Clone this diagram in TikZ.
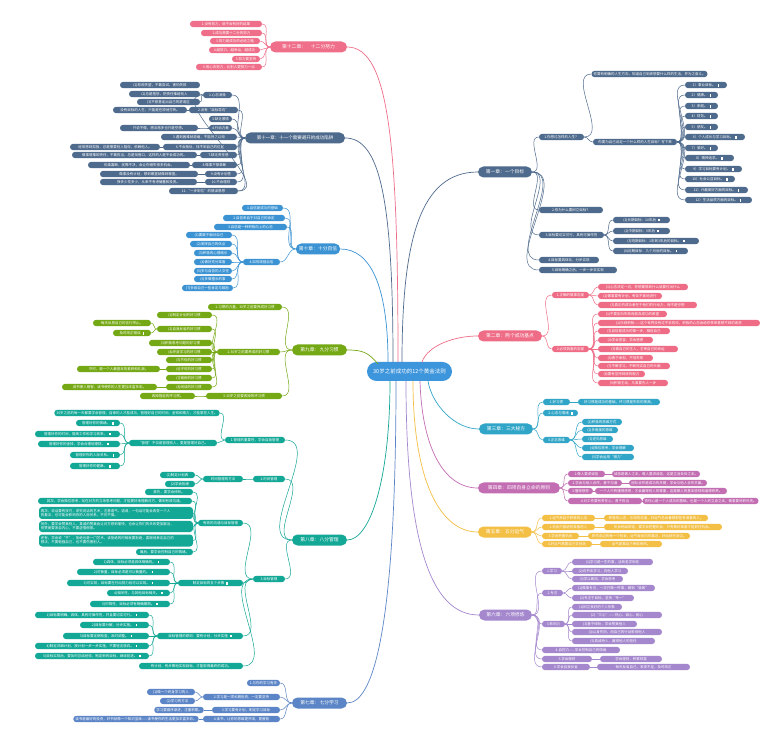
\documentclass[tikz,border=0pt]{standalone}
\usepackage{fontspec}
\setmainfont{Noto Sans CJK SC}
\definecolor{C0}{HTML}{3D95DC}
\definecolor{C1}{HTML}{4E6A8C}
\definecolor{C2}{HTML}{EF6C86}
\definecolor{C3}{HTML}{31A5C7}
\definecolor{C4}{HTML}{C36DB3}
\definecolor{C5}{HTML}{F3BF45}
\definecolor{C6}{HTML}{A487CD}
\definecolor{C7}{HTML}{5B85C6}
\definecolor{C8}{HTML}{13A796}
\definecolor{C9}{HTML}{75A815}
\definecolor{C10}{HTML}{3B93D3}
\definecolor{C12}{HTML}{EF6E89}
\newcommand\ic{\hspace{2pt}\rule[-0.2pt]{1.6pt}{2.4pt}}
\newcommand\N[6]{\pgfmathsetmacro\nw{#4-#3}\pgfmathsetmacro\nx{(#3+#4)/2}\node[#1,minimum width=\nw pt] (#2) at (\nx,#5) {#6};}
\newcommand\R[3]{\draw[#1] (#2.east) to[out=0,in=180] (#3.west);}
\newcommand\Lt[3]{\draw[#1] (#2.west) to[out=180,in=0] (#3.east);}
\tikzset{
 base/.style={rounded corners=3.1pt, minimum height=6.4pt, inner xsep=2pt, inner ysep=0.6pt, text=white, font=\fontsize{3.5}{4.3}\selectfont},
 chp/.style={rounded corners=5.5pt, minimum height=11pt, inner xsep=3pt, inner ysep=1pt, text=white, font=\fontsize{4.8}{5.5}\selectfont},
 n1/.style={base,fill=C1}, n2/.style={base,fill=C2}, n3/.style={base,fill=C3}, n4/.style={base,fill=C4},
 n5/.style={base,fill=C5}, n6/.style={base,fill=C6}, n7/.style={base,fill=C7}, n8/.style={base,fill=C8},
 n9/.style={base,fill=C9}, n10/.style={base,fill=C10}, n11/.style={base,fill=C1}, n12/.style={base,fill=C12},
 w1/.style={draw=C1,line width=0.5pt}, w2/.style={draw=C2,line width=0.5pt}, w3/.style={draw=C3,line width=0.5pt},
 w4/.style={draw=C4,line width=0.5pt}, w5/.style={draw=C5,line width=0.5pt}, w6/.style={draw=C6,line width=0.5pt},
 w7/.style={draw=C7,line width=0.5pt}, w8/.style={draw=C8,line width=0.5pt}, w9/.style={draw=C9,line width=0.5pt},
 w10/.style={draw=C10,line width=0.5pt}, w11/.style={draw=C1,line width=0.5pt}, w12/.style={draw=C12,line width=0.5pt},
}
\begin{document}
\begin{tikzpicture}[x=1pt,y=-1pt]
\fill[white] (0,0) rectangle (780,743);
\useasboundingbox (0,0) rectangle (780,743);
% ---------- center
\node[fill=C0, rounded corners=9.5pt, minimum width=85pt, minimum height=19pt, text=white, font=\fontsize{5.5}{6}\selectfont] (ct) at (409.5,371.5) {30岁之前成功的12个黄金法则};
% ---------- chapters
\N{chp,fill=C1}{ch1}{478}{532}{172}{第一章：一个目标}
\N{chp,fill=C2}{ch2}{478}{542}{336}{第二章：两个成功基点}
\N{chp,fill=C3}{ch3}{479}{533}{429}{第三章：三大秘方}
\N{chp,fill=C4}{ch4}{478}{560}{488}{第四章：四项自身立命的原则}
\N{chp,fill=C5}{ch5}{478}{532}{532}{第五章：五分运气}
\N{chp,fill=C6}{ch6}{479}{532}{615}{第六章：六项修炼}
\N{chp,fill=C7}{ch7}{292}{347}{703}{第七章：七分学习}
\N{chp,fill=C8}{ch8}{292}{347}{540}{第八章：八分管理}
\N{chp,fill=C9}{ch9}{292}{347}{350}{第九章：九分习惯}
\N{chp,fill=C10}{ch10}{297}{339}{249}{第十章：十分自信}
\N{chp,fill=C1,font=\fontsize{4.5}{5}\selectfont}{ch11}{245}{345}{138}{第十一章：十一个需要避开的成功陷阱}
\N{chp,fill=C12}{ch12}{270}{347}{47}{第十二章：\quad 十二分努力}
% center connectors
\draw[C1,line width=0.7pt] (402,362) .. controls (402,240) and (420,172) .. (ch1.west);
\draw[C2,line width=0.7pt] (422,362) .. controls (428,345) and (455,336) .. (ch2.west);
\draw[C3,line width=0.7pt] (428,381) .. controls (432,405) and (455,429) .. (ch3.west);
\draw[C4,line width=0.7pt] (420,381) .. controls (422,450) and (445,488) .. (ch4.west);
\draw[C5,line width=0.7pt] (413,381) .. controls (413,480) and (440,532) .. (ch5.west);
\draw[C6,line width=0.7pt] (406,381) .. controls (406,540) and (430,615) .. (ch6.west);
\draw[C12,line width=0.7pt] (398,362) .. controls (398,150) and (390,47) .. (ch12.east);
\draw[C1,line width=0.7pt] (393,362) .. controls (393,200) and (380,138) .. (ch11.east);
\draw[C10,line width=0.7pt] (388,362) .. controls (388,285) and (370,249) .. (ch10.east);
\draw[C9,line width=0.7pt] (378,364) .. controls (368,352) and (362,350) .. (ch9.east);
\draw[C8,line width=0.7pt] (390,381) .. controls (390,480) and (370,540) .. (ch8.east);
\draw[C7,line width=0.7pt] (396,381) .. controls (396,620) and (375,703) .. (ch7.east);
% ---------- chapter 1
\N{n1}{a1}{539}{584}{137}{1.你想过怎样的人生？}
\N{n1}{a1a}{592}{707}{74}{你要有明确的人生方向，知道自己到底想要什么样的生活，并为之奋斗。}
\N{n1}{a1b}{593}{677}{142}{你要为自己设定一个什么样的人生目标？写下来}
\N{n1}{a1b1}{685}{727}{85}{1）事业目标。\ic}
\N{n1}{a1b2}{685}{718}{95}{2）健康。\ic}
\N{n1}{a1b3}{685}{718}{106}{3）家庭。\ic}
\N{n1}{a1b4}{685}{718}{116}{4）财务。\ic}
\N{n1}{a1b5}{685}{718}{127}{5）朋友。\ic}
\N{n1}{a1b6}{685}{745}{137}{6）个人成长与学习目标。\ic}
\N{n1}{a1b7}{685}{718}{148}{7）爱好。\ic}
\N{n1}{a1b8}{685}{734}{158}{8）精神追求。\ic}
\N{n1}{a1b9}{685}{742}{169}{9）学习目标要有计划。\ic}
\N{n1}{a1b10}{685}{735}{179}{10）社会公益目标。\ic}
\N{n1}{a1b11}{685}{748}{190}{11）兴趣爱好方面的目标。\ic}
\N{n1}{a1b12}{685}{752}{200}{12）生活品质方面的目标。\ic}
\N{n1}{a2}{539}{603}{210}{2.你为什么要树立目标？}
\N{n1}{a3}{539}{604}{235}{3.目标要切实可行，具有可操作性}
\N{n1}{a31}{613}{670}{220}{(1)长期目标：10年后\ic}
\N{n1}{a32}{613}{670}{231}{(2)中期目标：5年后\ic}
\N{n1}{a33}{613}{699}{241}{(3)短期目标：1年到3年后的目标。\ic}
\N{n1}{a34}{613}{688}{251}{(4)近期目标：几个月后的目标。\ic}
\N{n1}{a4}{539}{599}{260}{4.目标要具体化，分步实现}
\N{n1}{a5}{539}{617}{270}{5.目标明确之后，一步一步去实现}
\foreach \c in {a1,a2,a3,a4,a5} {\R{w1}{ch1}{\c}}
\foreach \c in {a1a,a1b} {\R{w1}{a1}{\c}}
\foreach \c in {a1b1,a1b2,a1b3,a1b4,a1b5,a1b6,a1b7,a1b8,a1b9,a1b10,a1b11,a1b12} {\R{w1}{a1b}{\c}}
\foreach \c in {a31,a32,a33,a34} {\R{w1}{a3}{\c}}
% ---------- chapter 2
\N{n2}{b1}{552}{589}{295}{1.正确的做事态度}
\N{n2}{b11}{598}{688}{287}{(1)心态决定一切，你想要得到什么就要付出什么}
\N{n2}{b12}{598}{662}{296}{(2)做事要有计划，有条不紊地进行}
\N{n2}{b13}{598}{697}{305}{(3)真正的成功者在于他们的行动力，而不是空想}
\N{n2}{b2}{552}{589}{349}{2.必须具备的态度}
\N{n2}{b21}{598}{667}{314}{(1)不要因为失败而放弃成功的希望}
\N{n2}{b22}{598}{760}{323}{(2)乐观积极——这个世界没有过不去的坎，积极的心态会给你带来意想不到的收获}
\N{n2}{b23}{598}{670}{331}{(3)自信是成功的第一步，相信自己}
\N{n2}{b24}{598}{653}{340}{(4)学会宽容，学会感恩}
\N{n2}{b25}{598}{678}{349}{(5)做自己的主人，主宰自己的命运}
\N{n2}{b26}{598}{653}{358}{(6)勇于承担，不怕失败}
\N{n2}{b27}{598}{670}{366}{(7)不断学习，不断充实自己的头脑}
\N{n2}{b28}{598}{645}{374}{(8)要有坚持到底的毅力}
\N{n2}{b29}{598}{668}{383}{(9)积极主动，凡事要先人一步}
\foreach \c in {b1,b2} {\R{w2}{ch2}{\c}}
\foreach \c in {b11,b12,b13} {\R{w2}{b1}{\c}}
\foreach \c in {b21,b22,b23,b24,b25,b26,b27,b28,b29} {\R{w2}{b2}{\c}}
% ---------- chapter 3
\N{n3}{c1}{543}{570}{402}{1.好习惯}
\N{n3}{c1a}{578}{660}{402}{好习惯是成功的基础，坏习惯是失败的根源。}
\N{n3}{c2}{543}{578}{413}{2.心态与情绪\ic}
\N{n3}{c3}{543}{570}{440}{3.正念思维}
\N{n3}{c31}{582}{622}{422}{(1)积极的思维方式}
\N{n3}{c32}{582}{618}{430}{(2)多角度的思维}
\N{n3}{c33}{582}{613}{439}{(3)逆向思维}
\N{n3}{c34}{582}{634}{448}{(4)换位思考，学会理解}
\N{n3}{c35}{582}{634}{457}{(5)学会运用“借力”}
\foreach \c in {c1,c2,c3} {\R{w3}{ch3}{\c}}
\R{w3}{c1}{c1a}
\foreach \c in {c31,c32,c33,c34,c35} {\R{w3}{c3}{\c}}
% ---------- chapter 4
\N{n4}{d1}{568}{605}{474}{1.做人要讲诚信}
\N{n4}{d1a}{612}{700}{474}{诚信是做人之本，做人要讲诚信，这是立身处世之本。}
\N{n4}{d2}{568}{622}{483}{2.学会与他人合作，善于沟通}
\N{n4}{d2a}{629}{707}{483}{团队合作是成功的关键，学会与他人合作共赢。}
\N{n4}{d3}{568}{593}{491}{3.懂得感恩}
\N{n4}{d3a}{595}{727}{491}{一个人只有懂得感恩，才会赢得别人的尊重，这是做人的基本原则和道德修养。}
\N{n4}{d4}{568}{642}{501}{4.对工作要有责任心，勇于担当}
\N{n4}{d4a}{644}{757}{501}{责任心是一个人成功的基础，也是一个人的立身之本，做事要尽职尽责。}
\foreach \c in {d1,d2,d3,d4} {\R{w4}{ch4}{\c}}
\R{w4}{d1}{d1a}\R{w4}{d2}{d2a}\R{w4}{d3}{d3a}\R{w4}{d4}{d4a}
% ---------- chapter 5
\N{n5}{e1}{542}{595}{518}{1.运气来自于积极的心态}
\N{n5}{e1a}{604}{708}{518}{积极的心态，乐观的态度，好运气总会眷顾那些有准备的人。}
\N{n5}{e2}{542}{595}{527}{2.机会只留给有准备的人}
\N{n5}{e2a}{604}{722}{527}{机会稍纵即逝，要学会把握机会，只有做好准备才能抓住机会。}
\N{n5}{e3}{542}{579}{536}{3.学会把握机会}
\N{n5}{e3a}{588}{690}{536}{抓住身边的每一个机会，运气就会向你靠近，好运就在身边。}
\N{n5}{e4}{542}{592}{544}{4.好运气需要自己去创造}
\N{n5}{e4a}{600}{662}{544}{运气是靠自己争取来的。}
\foreach \c in {e1,e2,e3,e4} {\R{w5}{ch5}{\c}}
\R{w5}{e1}{e1a}\R{w5}{e2}{e2a}\R{w5}{e3}{e3a}\R{w5}{e4}{e4a}
% ---------- chapter 6
\N{n6}{f1}{542}{562}{571}{1.学习}
\N{n6}{f11}{572}{653}{562}{(1)学习是一生的事，活到老学到老}
\N{n6}{f12}{572}{628}{571}{(2)向书本学习，向他人学习}
\N{n6}{f13}{572}{623}{579}{(3)学以致用，学会思考}
\N{n6}{f2}{542}{563}{593}{2.专注}
\N{n6}{f21}{572}{655}{588}{(1)做事专注，一次只做一件事，做到“极致”}
\N{n6}{f22}{572}{634}{598}{(2)专注于目标，坚持“专一”}
\N{n6}{f3}{542}{565}{624}{3.影响力}
\N{n6}{f31}{572}{622}{607}{(1)树立良好的个人形象}
\N{n6}{f32}{572}{662}{615}{(2)“三心”——热心、诚心、耐心}
\N{n6}{f33}{572}{637}{624}{(3)善于倾听，学会赞美他人}
\N{n6}{f34}{572}{662}{632}{(4)以身作则，用自己的行动影响他人}
\N{n6}{f35}{572}{655}{641}{(5)真诚待人，赢得他人的信任}
\N{n6}{f4}{542}{620}{650}{4.自控力——学会控制自己的情绪}
\N{n6}{f5}{542}{592}{659}{5.学会理财}
\N{n6}{f5a}{600}{662}{659}{学会理财，积累财富}
\N{n6}{f6}{542}{590}{667}{6.学会自我反省}
\N{n6}{f6a}{597}{690}{667}{每天反省自己，发现不足，及时改正}
\foreach \c in {f1,f2,f3,f4,f5,f6} {\R{w6}{ch6}{\c}}
\foreach \c in {f11,f12,f13} {\R{w6}{f1}{\c}}
\foreach \c in {f21,f22} {\R{w6}{f2}{\c}}
\foreach \c in {f31,f32,f33,f34,f35} {\R{w6}{f3}{\c}}
\R{w6}{f5}{f5a}\R{w6}{f6}{f6a}
% ---------- chapter 7
\N{n7}{g1}{247}{280}{683}{1.与你的学习有关}
\N{n7}{g2}{203}{280}{697}{2.学习是一项长期投资，一定要坚持}
\N{n7}{g21}{147}{195}{692}{(1)做一个终身学习的人}
\N{n7}{g22}{160}{195}{701}{(2)学习的方法}
\N{n7}{g3}{212}{280}{710}{3.学习要有计划，制定学习目标}
\N{n7}{g3a}{155}{203}{710}{学习要循序渐进，注重积累。}
\N{n7}{g4}{203}{280}{719}{4.读书，让你的思维更开阔，更睿智}
\N{n7}{g4a}{75}{197}{719}{读书是最好的投资，好书就像一个知识宝库——读书使你的生活更加丰富多彩。}
\foreach \c in {g1,g2,g3,g4} {\Lt{w7}{ch7}{\c}}
\Lt{w7}{g2}{g21}\Lt{w7}{g2}{g22}\Lt{w7}{g3}{g3a}\Lt{w7}{g4}{g4a}
% ---------- chapter 8
\N{n8}{h1}{225}{285}{440}{1.管理的重要性，学会自我管理}
\N{n8}{h1a}{57}{217}{413}{30岁之前的每一天都要学会管理，自律的人才能成功，管理好自己的时间、金钱和精力，才能掌控人生。}
\N{n8}{h1b}{129}{217}{443}{“管理”不仅是管理别人，更是管理好自己。}
\N{n8}{h1b1}{76}{120}{423}{管理好你的情绪。\ic}
\N{n8}{h1b2}{35}{120}{434}{管理好你的时间，提高工作和学习效率。\ic}
\N{n8}{h1b3}{38}{120}{444}{管理好你的金钱，学会合理地理财。\ic}
\N{n8}{h1b4}{70}{120}{455}{管理好你的人际关系。\ic}
\N{n8}{h1b5}{70}{120}{466}{管理好你的健康。\ic}
\N{n8}{h2}{253}{285}{479}{2.时间管理}
\N{n8}{h2a}{203}{243}{479}{时间管理的方法}
\N{n8}{h2a1}{160}{195}{475}{(1)制定计划表}
\N{n8}{h2a2}{165}{195}{484}{(2)学会拒绝}
\N{n8}{h3}{253}{285}{579}{3.目标管理}
\N{n8}{h3a}{198}{243}{523}{有效的沟通与目标管理}
\N{n8}{h3a1}{145}{193}{492}{首先，要学会倾听。}
\N{n8}{h3a2}{38}{192}{501}{其次，学会换位思考，站在对方的立场思考问题，才能更好地理解对方，做到有效沟通。}
\node[n8,text width=150pt,align=left,minimum height=12pt] (h3a3) at (116,513) {再次，说话要有技巧，讲究说话的艺术，注意语气、语调，一句话可能会改变一个人\\的看法，也可能会影响你的人际关系，不可不慎。};
\node[n8,text width=150pt,align=left,minimum height=11pt] (h3a4) at (116,526.5) {另外，要学会赞美别人，真诚的赞美会让对方感到愉快，也会让你们的关系更加融洽，\\但赞美要发自内心，不要虚情假意。};
\node[n8,text width=150pt,align=left,minimum height=12pt] (h3a5) at (116,540.5) {还有，学会说“不”，拒绝也是一门艺术，该拒绝的时候就要拒绝，委婉地表达自己的\\想法，不要勉强自己，也不要伤害别人。};
\N{n8}{h3a6}{136}{193}{552}{最后，要学会控制自己的情绪。}
\N{n8}{h3b}{178}{243}{583}{制定目标的五个步骤\ic}
\N{n8}{h3b1}{93}{170}{562}{1)具体，目标必须是具体明确的。\ic}
\N{n8}{h3b2}{77}{170}{572}{2)可衡量，目标必须是可以衡量的。\ic}
\N{n8}{h3b3}{67}{170}{583}{3)可实现，目标要在付出努力后可以实现。\ic}
\N{n8}{h3b4}{107}{170}{593}{4)相关性，与其他目标相关。\ic}
\N{n8}{h3b5}{90}{170}{604}{5)时限性，目标必须有明确期限。\ic}
\N{n8}{h3c}{157}{243}{636}{目标管理的原则：要有计划，分步实施\ic}
\N{n8}{h3c1}{35}{149}{615}{1)目标要明确、具体，具有可操作性，并且要切实可行。\ic}
\N{n8}{h3c2}{80}{149}{625}{2)目标要分解，分步实施。\ic}
\N{n8}{h3c3}{63}{149}{636}{3)目标要定期检查，及时调整。\ic}
\N{n8}{h3c4}{35}{149}{646}{4)制定详细计划，按计划一步一步实施，不要轻言放弃。\ic}
\N{n8}{h3c5}{35}{149}{656}{5)目标实现后，要及时总结经验，制定新的目标，继续前进。\ic}
\N{n8}{h3d}{139}{243}{666}{有计划、有步骤地实现目标，才能取得最终的成功。}
\foreach \c in {h1,h2,h3} {\Lt{w8}{ch8}{\c}}
\Lt{w8}{h1}{h1a}\Lt{w8}{h1}{h1b}
\foreach \c in {h1b1,h1b2,h1b3,h1b4,h1b5} {\Lt{w8}{h1b}{\c}}
\Lt{w8}{h2}{h2a}\Lt{w8}{h2a}{h2a1}\Lt{w8}{h2a}{h2a2}
\foreach \c in {h3a,h3b,h3c,h3d} {\Lt{w8}{h3}{\c}}
\foreach \c in {h3a1,h3a2,h3a3,h3a4,h3a5,h3a6} {\Lt{w8}{h3a}{\c}}
\foreach \c in {h3b1,h3b2,h3b3,h3b4,h3b5} {\Lt{w8}{h3b}{\c}}
\foreach \c in {h3c1,h3c2,h3c3,h3c4,h3c5} {\Lt{w8}{h3c}{\c}}
% ---------- chapter 9
\N{n9}{i1}{208}{282}{307}{1.习惯的力量，30岁之前要养成好习惯}
\N{n9}{i2}{217}{280}{352}{2.30岁之前要养成的好习惯}
\N{n9}{i21}{157}{212}{315}{(1)制定计划的好习惯}
\N{n9}{i22}{157}{212}{329}{(2)自我反省的好习惯}
\N{n9}{i22a}{93}{151}{323}{每天反思自己的言行举止。}
\N{n9}{i22b}{113}{151}{333}{及时改正错误\ic}
\N{n9}{i23}{149}{212}{343}{(3)积极思考问题的好习惯}
\N{n9}{i24}{157}{212}{352}{(4)终身学习的好习惯}
\N{n9}{i25}{166}{212}{360}{(5)节俭的好习惯}
\N{n9}{i26}{166}{212}{369}{(6)守时的好习惯}
\N{n9}{i26a}{77}{160}{369}{守时，是一个人最基本的素养和礼貌。}
\N{n9}{i27}{166}{212}{378}{(7)锻炼的好习惯}
\N{n9}{i28}{166}{212}{387}{(8)阅读的好习惯}
\N{n9}{i28a}{62}{157}{387}{读书使人明智，读书使你的人生更加丰富多彩。}
\N{n9}{i3}{206}{282}{396}{3.30岁之前要改掉的坏习惯}
\N{n9}{i3a}{140}{195}{396}{改掉拖延的坏习惯。}
\foreach \c in {i1,i2,i3} {\Lt{w9}{ch9}{\c}}
\foreach \c in {i21,i22,i23,i24,i25,i26,i27,i28} {\Lt{w9}{i2}{\c}}
\Lt{w9}{i22}{i22a}\Lt{w9}{i22}{i22b}\Lt{w9}{i26}{i26a}\Lt{w9}{i28}{i28a}\Lt{w9}{i3}{i3a}
% ---------- chapter 10
\N{n10}{j1}{242}{283}{208}{1.自信是成功的基础}
\N{n10}{j2}{223}{285}{218}{2.自信来自于对自己的肯定}
\N{n10}{j3}{214}{287}{227}{3.自信是一种积极向上的心态}
\N{n10}{j4}{243}{280}{262}{4.如何增强自信}
\N{n10}{j41}{186}{232}{235}{(1)要敢于面对自己}
\N{n10}{j42}{190}{232}{244}{(2)发挥自己的优点}
\N{n10}{j43}{194}{232}{253}{(3)积极的心理暗示}
\N{n10}{j44}{194}{232}{262}{(4)做好充分准备}
\N{n10}{j45}{194}{232}{271}{(5)多与自信的人交往}
\N{n10}{j46}{194}{232}{279}{(6)多做擅长的事}
\N{n10}{j47}{182}{233}{288}{(7)多给自己一些肯定与鼓励}
\foreach \c in {j1,j2,j3,j4} {\Lt{w10}{ch10}{\c}}
\foreach \c in {j41,j42,j43,j44,j45,j46,j47} {\Lt{w10}{j4}{\c}}
% ---------- chapter 11
\N{n11}{k1}{203}{232}{95}{1.心态消极}
\N{n11}{k11}{120}{200}{85}{(1)悲观失望，不敢尝试，害怕失败}
\N{n11}{k12}{129}{200}{94}{(2)总是抱怨，把责任推给别人}
\N{n11}{k13}{137}{200}{102}{(3)不愿意走出自己的舒适区}
\N{n11}{k2}{189}{238}{110}{2.没有“目标导向”}
\N{n11}{k2a}{113}{187}{110}{没有目标的人生，只能是在原地打转。}
\N{n11}{k3}{209}{232}{119}{3.缺乏激情}
\N{n11}{k4}{209}{232}{128}{4.行动力差}
\N{n11}{k4a}{120}{198}{128}{只说不做，想法再多也只是空想。}
\N{n11}{k5}{161}{237}{137}{5.遇到困难就退缩，不能持之以恒}
\N{n11}{k6}{163}{237}{147}{6.不会独处，找不到自己的位置}
\N{n11}{k6a}{70}{160}{147}{经常感到孤独，总是需要别人陪伴，依赖他人。}
\N{n11}{k7}{200}{237}{155}{7.缺乏责任感}
\N{n11}{k7a}{72}{197}{155}{做事情推卸责任，不敢担当，总是找借口，这样的人是不会成功的。}
\N{n11}{k8}{192}{237}{165}{8.做事不够果断}
\N{n11}{k8a}{88}{190}{165}{优柔寡断，犹豫不决，会让你错失很多机会。}
\N{n11}{k9}{205}{237}{174}{9.没有计划性}
\N{n11}{k9a}{100}{198}{174}{做事没有计划，想到哪里就做到哪里。}
\N{n11}{k10}{205}{237}{182}{10.不会理财}
\N{n11}{k10a}{100}{197}{182}{挣多少花多少，从来不考虑储蓄和投资。}
\N{n11}{k11}{169}{238}{191}{11.“一步到位”的错误思想}
\foreach \c in {k1,k2,k3,k4,k5,k6,k7,k8,k9,k10,k11} {\Lt{w11}{ch11}{\c}}
\foreach \c in {k11,k12,k13} {\Lt{w11}{k1}{\c}}
\Lt{w11}{k2}{k2a}\Lt{w11}{k4}{k4a}\Lt{w11}{k6}{k6a}\Lt{w11}{k7}{k7a}
\Lt{w11}{k8}{k8a}\Lt{w11}{k9}{k9a}\Lt{w11}{k10}{k10a}
% ---------- chapter 12
\N{n12}{l1}{190}{262}{24}{1.没有努力，就不会有好的结果}
\N{n12}{l2}{201}{262}{33}{2.成功需要十二分的努力}
\N{n12}{l3}{210}{260}{41}{3.努力是成功的必经之路}
\N{n12}{l4}{209}{260}{50}{4.越努力，越幸运，越成功}
\N{n12}{l5}{232}{260}{59}{5.努力要坚持}
\N{n12}{l6}{196}{262}{67}{6.用心去努力，比别人更努力一点}
\foreach \c in {l1,l2,l3,l4,l5,l6} {\Lt{w12}{ch12}{\c}}
\end{tikzpicture}
\end{document}
